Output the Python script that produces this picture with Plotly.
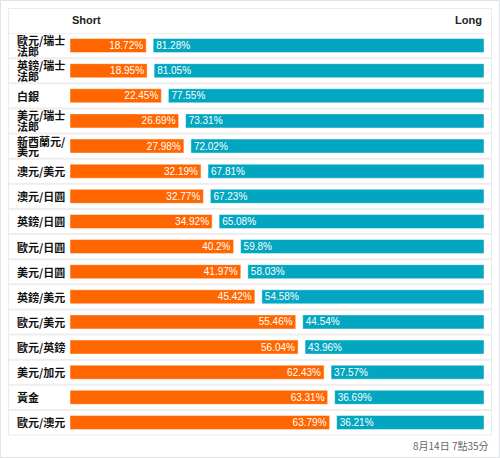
import plotly.graph_objects as go

categories = ["歐元/瑞士法郎", "英鎊/瑞士法郎", "白銀", "美元/瑞士法郎", "新西蘭元/美元",
              "澳元/美元", "澳元/日圓", "英鎊/日圓", "歐元/日圓", "美元/日圓",
              "英鎊/美元", "歐元/美元", "歐元/英鎊", "美元/加元", "黃金", "歐元/澳元"]
short_vals = [18.72, 18.95, 22.45, 26.69, 27.98, 32.19, 32.77, 34.92, 40.2, 41.97,
              45.42, 55.46, 56.04, 62.43, 63.31, 63.79]
long_vals = [81.28, 81.05, 77.55, 73.31, 72.02, 67.81, 67.23, 65.08, 59.8, 58.03,
             54.58, 44.54, 43.96, 37.57, 36.69, 36.21]
header_left = "Short"
header_right = "Long"
footer = "8月14日 7點35分"

W, H = 500, 458
L, R, T, B = 70, 484, 33, 435
pw, ph = R - L, B - T
gap_px = 7
g = gap_px / (pw - gap_px) * 100

def px(x):
    return (x - L) / pw

def py(y):
    return (B - y) / ph

n = len(categories)
idx = list(range(n))
row_px = ph / n

fig = go.Figure()
fig.add_trace(go.Bar(
    y=idx, x=short_vals, base=0, orientation="h", name=header_left,
    marker=dict(color="#ff6600", line=dict(color="rgba(255,255,255,0.45)", width=1)),
    text=[f"{v}%" for v in short_vals], textposition="inside", insidetextanchor="end",
    textfont=dict(color="white", size=10, family="Liberation Sans, Arial"),
    width=0.56, hoverinfo="skip",
))
fig.add_trace(go.Bar(
    y=idx, x=long_vals, base=[s + g for s in short_vals], orientation="h", name=header_right,
    marker=dict(color="#03a6c0", line=dict(color="rgba(255,255,255,0.45)", width=1)),
    text=[f"{v}%" for v in long_vals], textposition="inside", insidetextanchor="start",
    textfont=dict(color="white", size=10, family="Liberation Sans, Arial"),
    width=0.56, hoverinfo="skip",
))

shapes = []
shapes.append(dict(type="rect", xref="paper", yref="paper", x0=px(0.5), x1=px(W - 0.5),
                   y0=py(H - 0.5), y1=py(0.5), line=dict(color="#dde3e6", width=1), layer="below"))
shapes.append(dict(type="rect", xref="paper", yref="paper", x0=px(8.5), x1=px(491.5),
                   y0=py(435), y1=py(8.5), line=dict(color="#e8ecee", width=1), layer="below"))
for i in range(n):
    shapes.append(dict(type="line", xref="paper", yref="y", x0=px(9), x1=px(491),
                       y0=i - 0.5, y1=i - 0.5, line=dict(color="#eeeeee", width=2), layer="below"))

annotations = []
lab_font = dict(size=11, color="#111", family="Noto Sans CJK TC", weight="bold")
for i, c in enumerate(categories):
    if len(c) <= 5:
        lines = [(c, 0)]
    else:
        lines = [(c[:5], -5.5 / row_px), (c[5:], 5.0 / row_px)]
    for txt, off in lines:
        annotations.append(dict(x=px(16), y=i + off, xref="paper", yref="y", text=txt, showarrow=False,
                                xanchor="left", yanchor="middle", align="left", font=lab_font,
                                borderpad=0))
annotations.append(dict(x=px(70), y=py(20), xref="paper", yref="paper", text="<b>" + header_left + "</b>",
                        showarrow=False, xanchor="left", yanchor="middle",
                        font=dict(size=11, color="#222", family="Liberation Sans, Arial")))
annotations.append(dict(x=px(484), y=py(20), xref="paper", yref="paper", text="<b>" + header_right + "</b>",
                        showarrow=False, xanchor="right", yanchor="middle",
                        font=dict(size=11, color="#222", family="Liberation Sans, Arial")))
annotations.append(dict(x=px(491), y=py(445), xref="paper", yref="paper", text=footer,
                        showarrow=False, xanchor="right", yanchor="middle",
                        font=dict(size=10, color="#666", family="Noto Sans CJK TC")))

fig.update_layout(
    width=W, height=H, margin=dict(l=L, r=W - R, t=T, b=H - B),
    paper_bgcolor="white", plot_bgcolor="white",
    barmode="overlay", showlegend=False,
    xaxis=dict(range=[0, 100 + g], visible=False, fixedrange=True),
    yaxis=dict(range=[n - 0.5, -0.5], visible=False, fixedrange=True),
    shapes=shapes, annotations=annotations,
    uniformtext=dict(minsize=10, mode="show"),
)

fig.write_html("out.html", config={"displayModeBar": False},
               post_script="document.body.style.margin='0';document.body.style.overflow='hidden';")
